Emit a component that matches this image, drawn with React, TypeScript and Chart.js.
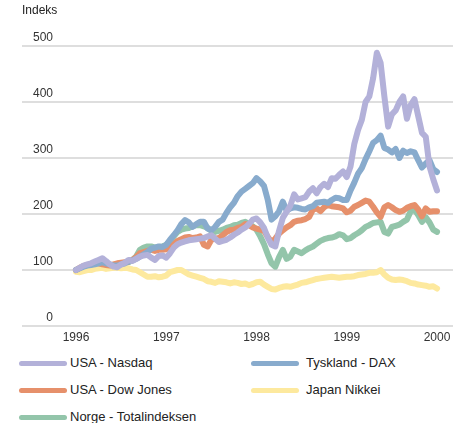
import React, { useEffect, useRef } from 'react';
import { Chart, registerables } from 'chart.js';

Chart.register(...registerables);

// Semi-monthly observations, Jan 1996 .. Jan 2000 (index 0..96)
const NASDAQ = [
  100, 104, 108, 110, 112, 115, 118, 121, 116, 110,
  106, 105, 110, 113, 118, 116, 120, 124, 126, 127,
  122, 118, 125, 126, 122, 130, 140, 146, 149, 151,
  153, 154, 155, 156, 157, 160, 162, 156, 150, 152,
  154, 158, 163, 167, 172, 176, 182, 190, 192, 185,
  175, 158, 145, 142, 170, 193, 204, 215, 235, 226,
  228, 230, 240, 246, 237, 248, 254, 248, 264, 263,
  270, 276, 266, 285, 325, 350, 368, 400, 410, 442,
  488, 470, 410, 356, 378, 385, 400, 410, 370, 395,
  405, 375, 345, 338, 285, 262, 242,
];

const DAX = [
  100, 103, 106, 108, 109, 110, 112, 114, 112, 110,
  108, 108, 110, 112, 115, 117, 120, 124, 128, 132,
  138, 140, 142, 141, 145, 154, 162, 171, 182, 189,
  185, 177, 182, 186, 186, 174, 171, 177, 186, 190,
  202, 212, 220, 232, 240, 245, 250, 255, 264, 258,
  250, 225, 190, 196, 205, 222, 206, 210, 212, 211,
  209, 208, 212, 214, 220, 221, 222, 220, 225, 229,
  228, 225, 225, 242, 256, 272, 282, 298, 312, 327,
  332, 340, 318, 315, 310, 316, 300, 313, 309, 312,
  310, 296, 283, 290, 296, 280, 275,
];

const DOW_JONES = [
  100, 104, 107, 109, 110, 112, 112, 110, 109, 108,
  110, 112, 113, 114, 115, 118, 123, 130, 132, 134,
  136, 134, 136, 136, 137, 141, 146, 152, 155, 158,
  159, 157, 158, 160, 145, 142, 154, 156, 157, 162,
  168, 171, 172, 175, 177, 182, 180, 176, 174, 172,
  170, 159, 150, 156, 165, 171, 176, 180, 186, 188,
  189, 191, 195, 208, 210, 205, 212, 216, 214, 213,
  212, 210, 203, 206, 213, 216, 220, 224, 222, 213,
  203, 195, 212, 216, 212, 207, 204, 206, 211, 214,
  216, 208, 196, 210, 204, 205, 205,
];

const NIKKEI = [
  97, 96, 98, 100, 100, 102, 103, 104, 102, 103,
  104, 104, 103, 104, 103, 101, 100, 96, 92, 88,
  88, 89, 87, 88, 90, 96, 98, 100, 100, 96,
  92, 90, 88, 86, 84, 80, 79, 77, 80, 79,
  78, 76, 78, 77, 75, 76, 73, 75, 78, 79,
  74, 70, 66, 65, 68, 70, 71, 70, 72, 74,
  77, 78, 80, 82, 84, 85, 86, 87, 88, 87,
  86, 87, 88, 88, 89, 91, 92, 93, 95, 95,
  96, 100, 92, 86, 83, 82, 83, 82, 80, 77,
  76, 74, 73, 72, 70, 71, 67,
];

const NORGE = [
  100, 102, 104, 105, 106, 107, 108, 107, 106, 106,
  108, 110, 111, 112, 114, 118, 124, 136, 140, 142,
  142, 140, 141, 142, 145, 152, 160, 168, 172, 174,
  175, 178, 180, 180, 178, 175, 170, 168, 170, 172,
  175, 177, 180, 181, 184, 186, 182, 178, 172, 160,
  146, 128, 112, 106, 123, 136, 120, 124, 136, 133,
  130, 135, 139, 142, 147, 152, 155, 157, 158, 160,
  164, 162, 155, 157, 162, 166, 171, 177, 180, 184,
  185, 186, 168, 165, 177, 179, 181, 186, 190, 205,
  208, 198, 186, 194, 185, 172, 168,
];

const SERIES_NAMES = [
  'USA - Nasdaq',
  'Tyskland - DAX',
  'USA - Dow Jones',
  'Japan Nikkei',
  'Norge - Totalindeksen',
];
const SERIES_VALUES = [NASDAQ, DAX, DOW_JONES, NIKKEI, NORGE];

const X_TICK_POSITIONS = [0, 24, 48, 72, 96];
const X_TICK_LABELS = ['1996', '1997', '1998', '1999', '2000'];

const Y_AXIS_TITLE = 'Indeks';

// styles
const COLORS = ['#b3b1d9', '#88abcd', '#e6906b', '#fde99e', '#93c5aa'];
const FONT = 'Arial, "Liberation Sans", Helvetica, sans-serif';

// legend layout: [left of swatch, left of text, row centre]
const LEGEND_POS: [number, number, number][] = [
  [19, 70, 363],
  [251, 306, 363],
  [19, 70, 390],
  [251, 306, 390],
  [19, 70, 417],
];

export default function App() {
  const ref = useRef<HTMLCanvasElement | null>(null);

  useEffect(() => {
    if (!ref.current) return;
    Chart.defaults.font.family = FONT;
    const chart = new Chart(ref.current, {
      type: 'line',
      data: {
        datasets: SERIES_VALUES.map((vals, k) => ({
          label: SERIES_NAMES[k],
          data: vals.map((y, i) => ({ x: i, y })),
          borderColor: COLORS[k],
          backgroundColor: COLORS[k],
          borderWidth: 6,
          pointRadius: 0,
          tension: 0,
          fill: false,
          borderCapStyle: 'round',
          borderJoinStyle: 'round',
        })),
      },
      options: {
        responsive: false,
        animation: false,
        layout: { padding: { left: 22, right: 7, top: 0, bottom: 0 } },
        plugins: {
          legend: { display: false },
          tooltip: { enabled: false },
          title: {
            display: true,
            text: Y_AXIS_TITLE,
            align: 'start',
            color: '#222',
            font: { size: 12, weight: 'normal', family: FONT },
            padding: { top: 3, bottom: 28.6 },
          },
        },
        scales: {
          x: {
            type: 'linear',
            min: -14.36,
            max: 100.25,
            grid: { display: false, drawTicks: false },
            border: { display: false },
            afterBuildTicks: (scale: any) => {
              scale.ticks = X_TICK_POSITIONS.map((v) => ({ value: v }));
            },
            afterFit: (scale: any) => {
              scale.height = 22;
            },
            ticks: {
              autoSkip: false,
              maxRotation: 0,
              padding: 4,
              color: '#333',
              font: { size: 12, family: FONT },
              callback: (v: any) => {
                const idx = X_TICK_POSITIONS.indexOf(Number(v));
                return idx >= 0 ? X_TICK_LABELS[idx] : '';
              },
            },
          },
          y: {
            min: 0,
            max: 500,
            grid: { color: '#dedede', lineWidth: 2, drawTicks: false },
            border: { display: false },
            afterFit: (scale: any) => {
              scale.width = 0;
            },
            ticks: {
              stepSize: 100,
              mirror: true,
              crossAlign: 'far',
              padding: 11,
              labelOffset: -8,
              color: '#333',
              font: { size: 12, family: FONT },
            },
          },
        },
      },
    } as any);
    return () => chart.destroy();
  }, []);

  return (
    <div
      style={{
        position: 'absolute',
        left: 0,
        top: 0,
        width: 460,
        height: 423,
        background: '#fff',
        fontFamily: FONT,
        overflow: 'hidden',
      }}
    >
      <canvas ref={ref} width={460} height={348} style={{ display: 'block' }} />
      {SERIES_NAMES.map((name, k) => (
        <React.Fragment key={name}>
          <div
            style={{
              position: 'absolute',
              left: LEGEND_POS[k][0],
              top: LEGEND_POS[k][2] - 2.5,
              width: 48,
              height: 5,
              borderRadius: 3,
              background: COLORS[k],
            }}
          />
          <div
            style={{
              position: 'absolute',
              left: LEGEND_POS[k][1],
              top: LEGEND_POS[k][2] - 8,
              height: 16,
              lineHeight: '16px',
              fontSize: 13,
              color: '#222',
              whiteSpace: 'nowrap',
            }}
          >
            {name}
          </div>
        </React.Fragment>
      ))}
    </div>
  );
}
